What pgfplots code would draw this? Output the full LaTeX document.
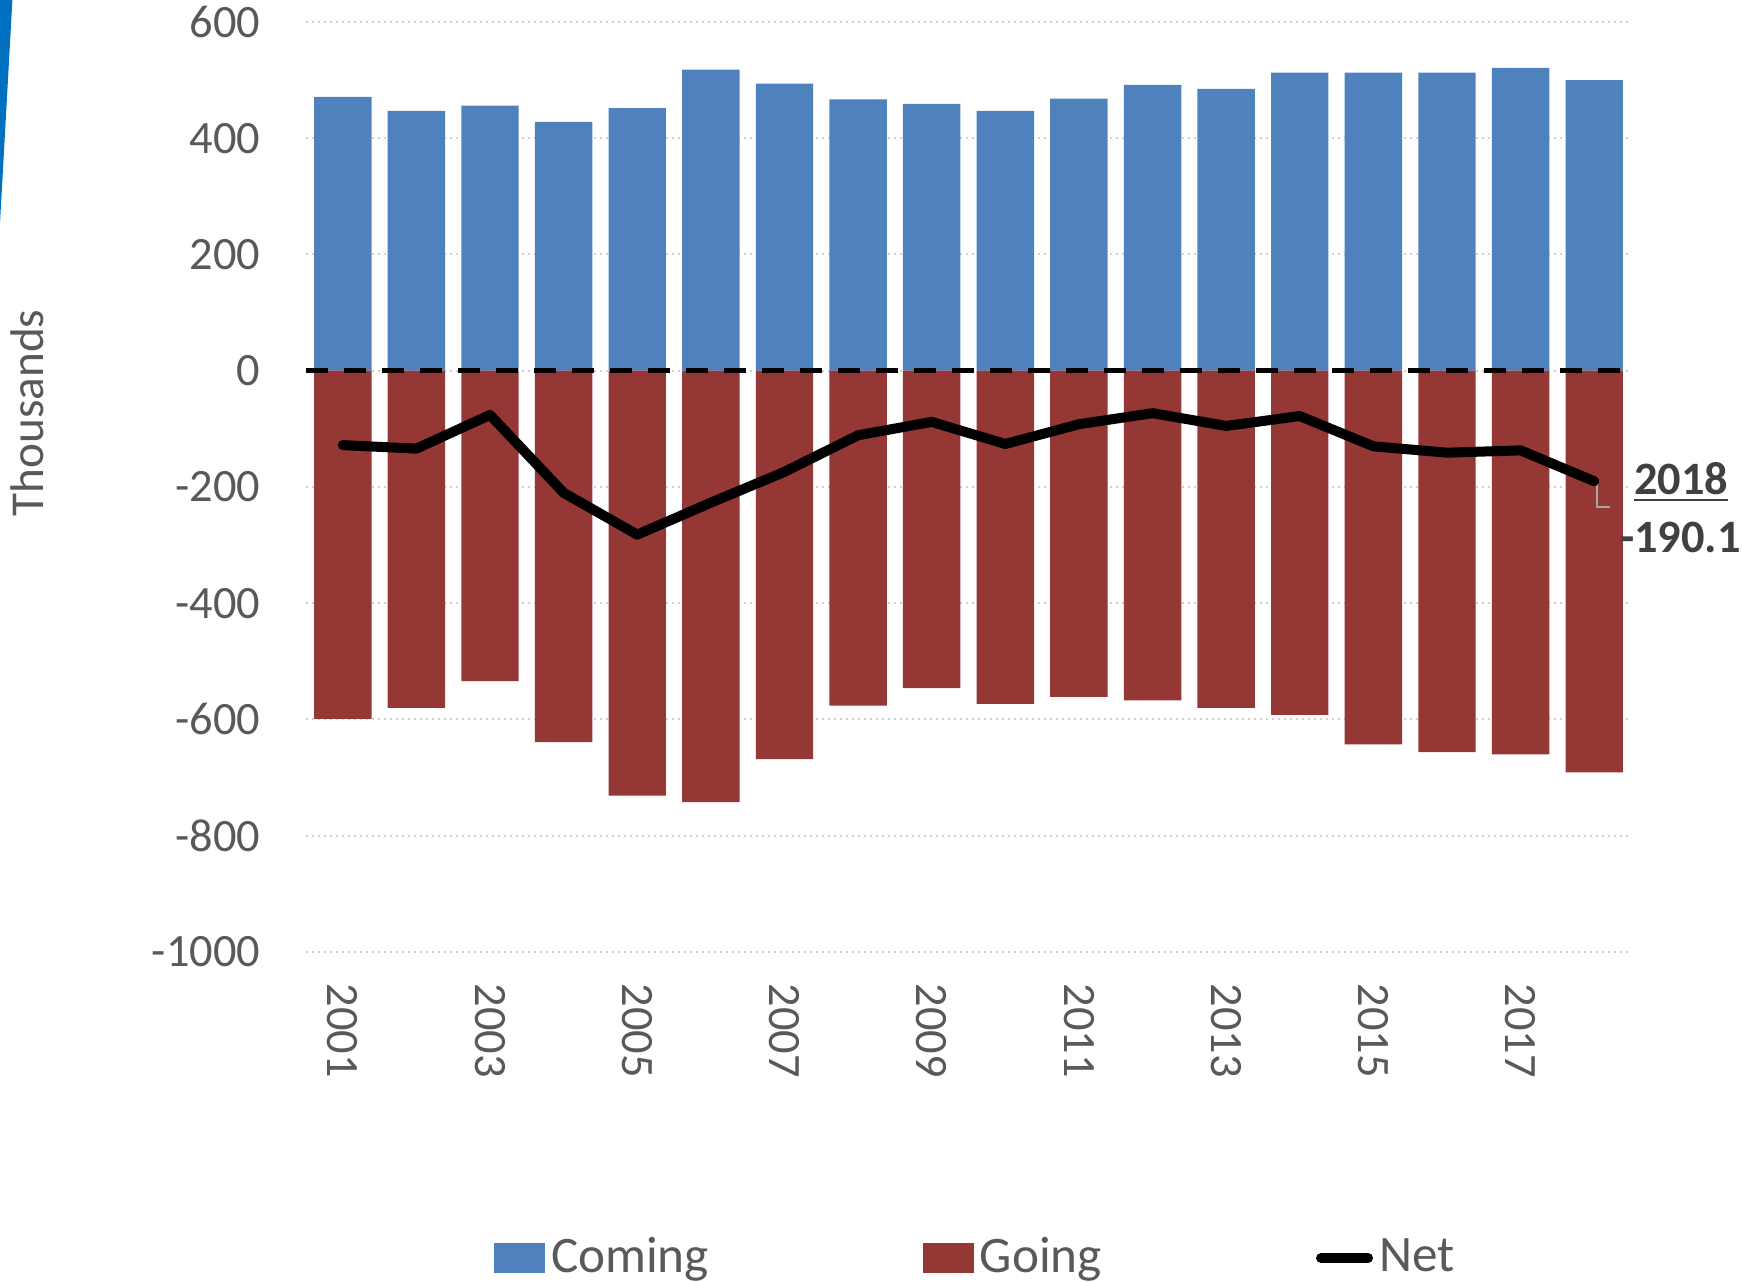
\documentclass[border=0pt]{standalone}
\usepackage{fontspec}
\setmainfont{Carlito}
\usepackage{pgfplots}
\pgfplotsset{compat=1.18}
\definecolor{comingblue}{HTML}{4F81BD}
\definecolor{goingred}{HTML}{953735}
\definecolor{txtgray}{HTML}{595959}
\definecolor{anngray}{HTML}{404040}
\definecolor{gridgray}{HTML}{D0D0D0}
\definecolor{sliver}{HTML}{0070C0}
\begin{document}
\begin{tikzpicture}
\useasboundingbox (0pt,0pt) rectangle (435.5pt,320.5pt);
\fill[sliver] (0pt,320.5pt) -- (3.1pt,320.5pt) -- (0pt,264.75pt) -- cycle;
\begin{axis}[
  at={(76.5pt,82.5pt)}, anchor=south west,
  scale only axis, width=331.25pt, height=232.5pt,
  xmin=2000.5, xmax=2018.5, ymin=-1000, ymax=600,
  clip=false,
  xtick={2001,2003,...,2017},
  ytick={-1000,-800,...,600},
  axis line style={draw=none},
  major tick length=0pt,
  tick style={draw=none},
  ymajorgrids,
  grid style={gridgray, line width=0.5pt, dash pattern=on 0.6pt off 0.9pt},
  /pgf/number format/1000 sep={},
  /pgf/number format/assume math mode=true,
  ticklabel style={font=\fontsize{11.6}{14}\selectfont, text=txtgray},
  yticklabel style={anchor=east, inner sep=0pt},
  yticklabel shift=11.25pt,
  xticklabel style={rotate=-90, anchor=west, inner sep=0pt},
  xticklabel shift=7.75pt,
  ylabel={Thousands},
  ylabel style={at={(axis description cs:-0.2106,0.5796)}, anchor=center, font=\fontsize{11.8}{14}\selectfont, text=txtgray},
  legend columns=3,
  legend style={at={(axis description cs:0.1419,-0.329)}, anchor=west, draw=none, fill=none,
    inner sep=0pt, outer sep=0pt, font=\fontsize{12.8}{14}\selectfont, text=txtgray,
    nodes={inner sep=0pt},
    /tikz/every odd column/.append style={column sep=1.5pt},
    /tikz/every even column/.append style={column sep=53.5pt}},
]
\addplot[ybar, bar width=0.78, bar shift=0pt, fill=comingblue, draw=none,
  legend image code/.code={\fill[comingblue] (0pt,-3.75pt) rectangle (12.75pt,3.75pt);}]
  coordinates {(2001,471)(2002,447)(2003,456)(2004,428)(2005,452)(2006,518)(2007,494)(2008,467)(2009,459)(2010,447)(2011,468)(2012,492)(2013,485)(2014,513)(2015,513)(2016,513)(2017,521)(2018,500)};
\addlegendentry{Coming}
\addplot[ybar, bar width=0.78, bar shift=0pt, fill=goingred, draw=none,
  legend image code/.code={\fill[goingred] (0pt,-3.75pt) rectangle (12.75pt,3.75pt);}]
  coordinates {(2001,-599)(2002,-580)(2003,-534)(2004,-639)(2005,-731)(2006,-742)(2007,-668)(2008,-576)(2009,-546)(2010,-573)(2011,-561)(2012,-567)(2013,-580)(2014,-592)(2015,-643)(2016,-656)(2017,-660)(2018,-691)};
\addlegendentry{Going}
\addplot[black, line width=1.33pt, dash pattern=on 5.5pt off 4pt, forget plot]
  coordinates {(2000.5,0)(2018.5,0)};
\draw[gray!70, line width=0.6pt] ([xshift=0.75pt]axis cs:2018,-190.1) -- ++(0pt,-6.5pt) -- ++(3.25pt,0pt);
\addplot[black, line width=2.5pt, line join=round, line cap=round,
  legend image code/.code={\draw[black, line width=2.5pt, line cap=round] (1.25pt,0pt) -- (13pt,0pt);}]
  coordinates {(2001,-128)(2002,-134)(2003,-76)(2004,-210)(2005,-282)(2006,-227)(2007,-174)(2008,-111)(2009,-88)(2010,-126)(2011,-92)(2012,-73)(2013,-95)(2014,-78)(2015,-130)(2016,-141)(2017,-137)(2018,-190.1)};
\addlegendentry{Net}
\node[anchor=base west, inner sep=0pt, font=\bfseries\fontsize{11.6}{14}\selectfont, text=anngray]
  at ([xshift=9.75pt, yshift=-3.25pt]axis cs:2018,-190.1) {\underline{2018}};
\node[anchor=base west, inner sep=0pt, font=\bfseries\fontsize{11.6}{14}\selectfont, text=anngray]
  at ([xshift=6.25pt, yshift=-17.75pt]axis cs:2018,-190.1) {-190.1};
\end{axis}
\end{tikzpicture}
\end{document}
